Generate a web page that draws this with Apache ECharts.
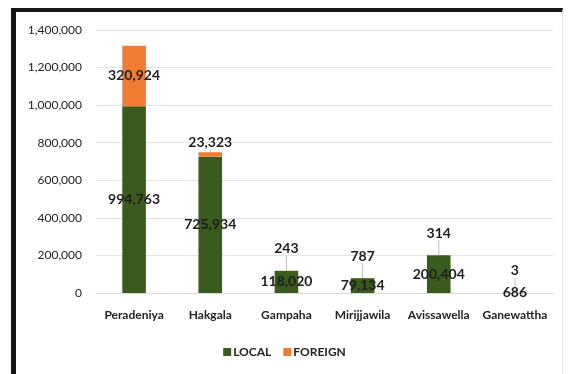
<!DOCTYPE html>
<html>
<head>
<meta charset="utf-8">
<script src="https://cdn.jsdelivr.net/npm/echarts@6/dist/echarts.min.js"></script>
<style>
  html, body { margin: 0; padding: 0; background: #fff; }
  #frame {
    position: absolute; left: 11px; top: 8px; width: 552px; height: 366px;
    border-left: 5px solid #151515; border-top: 4px solid #151515;
    border-right: 1px solid #e4e4e4; box-sizing: border-box;
  }
  #chart { position: absolute; left: 0; top: 0; width: 569px; height: 374px; }
</style>
</head>
<body>
<div id="frame"></div>
<div id="chart"></div>
<script>
// Visitor numbers per botanical garden, split into local and foreign visitors
const gardens = ['Peradeniya', 'Hakgala', 'Gampaha', 'Mirijjawila', 'Avissawella', 'Ganewattha'];
const localVisitors = [994763, 725934, 118020, 79134, 200404, 686];
const foreignVisitors = [320924, 23323, 243, 787, 314, 3];
const yTicks = [0, 200000, 400000, 600000, 800000, 1000000, 1200000, 1400000];

const FONT = 'Lato, "Open Sans", sans-serif';
const fmt = v => v.toLocaleString('en-US');

const chart = echarts.init(document.getElementById('chart'), null, { renderer: 'canvas' });

chart.setOption({
  animation: false,
  backgroundColor: 'transparent',
  textStyle: { fontFamily: FONT },
  grid: { left: 96, right: 16, top: 30, bottom: 81, containLabel: false },
  legend: {
    bottom: 11, left: 'center',
    itemWidth: 8, itemHeight: 8, itemGap: 12,
    icon: 'rect',
    textStyle: { fontFamily: FONT, fontSize: 12, fontWeight: 'bold', color: '#222', padding: [0, 0, 0, -3] },
    data: ['LOCAL', 'FOREIGN']
  },
  xAxis: {
    type: 'category',
    data: gardens,
    axisLine: { show: true, lineStyle: { color: '#d9d9d9' } },
    axisTick: { show: false },
    axisLabel: { fontFamily: FONT, fontSize: 12, fontWeight: 'bold', color: '#222', margin: 16, interval: 0 }
  },
  yAxis: {
    type: 'value',
    min: yTicks[0],
    max: yTicks[yTicks.length - 1],
    interval: yTicks[1] - yTicks[0],
    axisLine: { show: false },
    axisTick: { show: false },
    splitLine: { lineStyle: { color: '#e3e3e3', width: 1 } },
    axisLabel: { fontFamily: FONT, fontSize: 12, color: '#222', margin: 14, formatter: v => fmt(v) }
  },
  series: [
    {
      name: 'LOCAL',
      type: 'bar',
      stack: 'visitors',
      barWidth: '31%',
      itemStyle: { color: '#3a5a1e' },
      label: {
        show: true, position: 'inside',
        fontFamily: FONT, fontSize: 14, fontWeight: 'bold', color: '#1e1e1e',
        formatter: p => fmt(p.value)
      },
      data: localVisitors
    },
    {
      name: 'FOREIGN',
      type: 'bar',
      stack: 'visitors',
      barWidth: '31%',
      itemStyle: { color: '#ee7d31' },
      label: {
        show: true, position: 'top', distance: 3,
        fontFamily: FONT, fontSize: 14, fontWeight: 'bold', color: '#1e1e1e',
        formatter: p => fmt(p.value)
      },
      labelLine: { show: true, lineStyle: { color: '#bdbdbd', width: 1 } },
      labelLayout: p => (p.dataIndex >= 2 ? { dy: -12 } : {}),
      // large segments carry their label inside the bar
      data: foreignVisitors.map(v => (v > 100000 ? { value: v, label: { position: 'inside' } } : v))
    }
  ]
});
</script>
</body>
</html>
